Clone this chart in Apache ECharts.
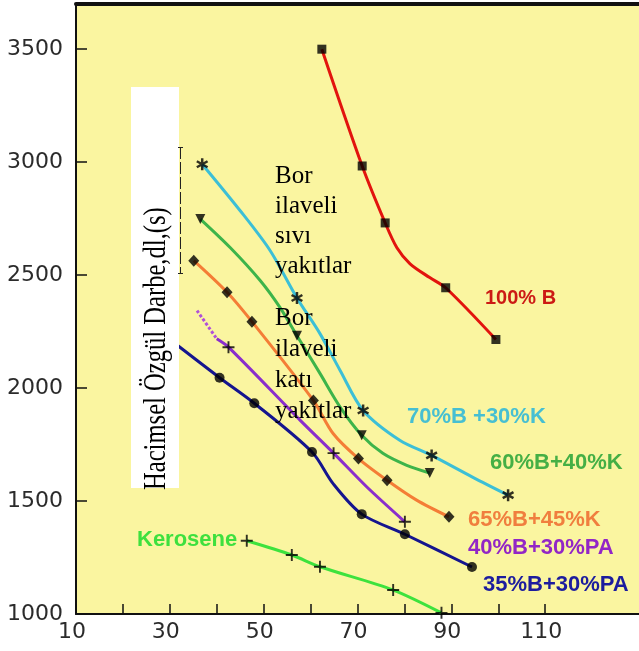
<!DOCTYPE html>
<html>
<head>
<meta charset="utf-8">
<title>Hacimsel Özgül Darbe</title>
<script src="https://cdn.jsdelivr.net/npm/echarts/dist/echarts.min.js"></script>
<style>
    html, body {margin: 0; padding: 0; background: #fff;}
    #main {width: 639px; height: 651px;}
</style>
</head>
<body>
<div id="main"></div>
<script>
// tick labels
let x_ticks = [10, 20, 30, 40, 50, 60, 70, 80, 90, 100, 110];
let x_labels = [10, 30, 50, 70, 90, 110];
let y_ticks = [1000, 1500, 2000, 2500, 3000, 3500];

// [x, y]; *_marks are the points with a marker
let b100_line = [[62.4, 3500], [71.0, 2983], [75.9, 2731], [78.4, 2621], [81.2, 2550], [85.4, 2489], [88.8, 2444], [99.5, 2215]];
let b100_marks = [[62.4, 3500], [71.0, 2983], [75.9, 2731], [88.8, 2444], [99.5, 2215]];

let b70k30_line = [[36.9, 2991], [45.0, 2785], [51.4, 2608], [57.1, 2399], [62.0, 2241], [66.3, 2078], [71.2, 1901], [79.0, 1769], [85.8, 1702], [94.6, 1605], [102.1, 1526]];
let b70k30_marks = [[36.9, 2991], [57.1, 2399], [71.2, 1901], [85.8, 1702], [102.1, 1526]];

let b60k40_line = [[36.5, 2748], [42.9, 2621], [49.3, 2475], [53.5, 2356], [57.1, 2232], [62.0, 2065], [66.3, 1916], [70.9, 1791], [75.4, 1711], [80.5, 1658], [85.4, 1624]];
let b60k40_marks = [[36.5, 2748], [57.1, 2232], [70.9, 1791], [85.4, 1624]];

let b65k45_line = [[35.1, 2564], [42.2, 2424], [47.5, 2294], [60.6, 1945], [64.8, 1799], [70.2, 1688], [76.3, 1592], [82.6, 1504], [89.5, 1430]];
let b65k45_marks = [[35.1, 2564], [42.2, 2424], [47.5, 2294], [60.6, 1945], [70.2, 1688], [76.3, 1592], [89.5, 1430]];

let b40pa30_dash = [[35.8, 2343], [40.0, 2218]];
let b40pa30_line = [[40.0, 2218], [42.5, 2181], [57.8, 1857], [64.9, 1712], [72.0, 1562], [80.1, 1408]];
let b40pa30_marks = [[42.5, 2181], [64.9, 1712], [80.1, 1408]];

let b35pa30_line = [[30.5, 2207], [40.6, 2046], [48.0, 1933], [60.3, 1717], [64.8, 1577], [70.9, 1442], [80.1, 1353], [94.4, 1208]];
let b35pa30_marks = [[40.6, 2046], [48.0, 1933], [60.3, 1717], [70.9, 1442], [80.1, 1353], [94.4, 1208]];

let kero_line = [[46.4, 1324], [56.0, 1261], [62.0, 1209], [77.6, 1106], [87.9, 1005]];
let kero_marks = [[46.4, 1324], [56.0, 1261], [62.0, 1209], [77.6, 1106], [87.9, 1005]];

let STAR = 'path://M-1,-5L1,-5L1,5L-1,5Z M3.83,-3.37L4.83,-1.63L-3.83,3.37L-4.83,1.63Z M-4.83,-1.63L-3.83,-3.37L4.83,1.63L3.83,3.37Z';
let PLUS = 'path://M-0.8,-5H0.8V-0.8H5V0.8H0.8V5H-0.8V0.8H-5V-0.8H-0.8Z';

function curve(data, color, dash) {
    return {
        type: 'line',
        data: data,
        smooth: 0.3,
        showSymbol: false,
        symbol: 'none',
        lineStyle: {color: color, width: 3, type: dash ? [3, 2] : 'solid'},
        z: 2
    };
}

function marks(data, symbol, size, rotate) {
    return {
        type: 'scatter',
        data: data,
        symbol: symbol,
        symbolSize: size,
        symbolRotate: rotate || 0,
        itemStyle: {color: '#000'},
        z: 3
    };
}

function label(text, x, y, color, size) {
    return {
        type: 'text', x: x, y: y, z: 100,
        style: {
            text: text, fill: color, verticalAlign: 'middle',
            font: 'bold ' + (size || 22) + 'px "Liberation Sans", Arial, sans-serif'
        }
    };
}

let myChart = echarts.init(document.getElementById('main'));
let option = {
    animation: false,
    grid: {left: 76, top: 4, right: 0, bottom: 37, show: true, backgroundColor: '#FAF5A0', borderWidth: 0},
    xAxis: [{
        type: 'value', min: 10, max: 130,
        axisLine: {lineStyle: {color: '#111', width: 2}},
        axisTick: {inside: true, length: 10, customValues: x_ticks, lineStyle: {color: '#111', width: 1.5}},
        axisLabel: {customValues: x_labels, margin: 7, padding: [0, 8, 0, 0], color: '#2b2b2b', fontSize: 22, fontFamily: 'DejaVu Sans',
            formatter: function (v) { return String(v); }},
        splitLine: {show: false}
    }, {
        type: 'value', min: 10, max: 130, position: 'top',
        axisLine: {lineStyle: {color: '#111', width: 4}},
        axisTick: {show: false}, axisLabel: {show: false}, splitLine: {show: false}
    }],
    yAxis: {
        type: 'value', min: 1000, max: 3700,
        axisLine: {show: true, lineStyle: {color: '#111', width: 2}},
        axisTick: {show: true, inside: true, length: 11, customValues: y_ticks, lineStyle: {color: '#111', width: 1.5}},
        axisLabel: {customValues: y_ticks, margin: 13, color: '#2b2b2b', fontSize: 22, fontFamily: 'DejaVu Sans',
            formatter: function (v) { return String(v); }},
        splitLine: {show: false}
    },
    series: [
        curve(b100_line, '#E2140E'), marks(b100_marks, 'rect', 9),
        curve(b70k30_line, '#3CBFD6'), marks(b70k30_marks, STAR, 12),
        curve(b60k40_line, '#3DB44A'), marks(b60k40_marks, 'triangle', 10, 180),
        curve(b65k45_line, '#F47D36'), marks(b65k45_marks, 'diamond', [11, 12]),
        curve(b40pa30_dash, '#B050D8', true),
        curve(b40pa30_line, '#8A2ECC'), marks(b40pa30_marks, PLUS, 12),
        curve(b35pa30_line, '#15158E'), marks(b35pa30_marks, 'circle', 10),
        curve(kero_line, '#3DE23D'), marks(kero_marks, PLUS, 12)
    ],
    graphic: [
        {type: 'rect', z: 90, shape: {x: 131, y: 87, width: 48, height: 401}, style: {fill: '#fff'}},
        {
            type: 'text', x: 157, y: 490, rotation: Math.PI / 2, scaleY: 1.27, z: 100,
            style: {text: 'Hacimsel Özgül Darbe,dl,(s)', fill: '#000', align: 'left', verticalAlign: 'middle', font: '24.6px "Liberation Serif", serif'}
        },
        {type: 'polyline', z: 100, shape: {points: [[180.5, 147], [180.5, 273]]}, style: {stroke: '#222', lineWidth: 1, lineDash: [12, 3]}},
        {type: 'polyline', z: 100, shape: {points: [[178, 147.5], [183, 147.5]]}, style: {stroke: '#222', lineWidth: 1}},
        {type: 'polyline', z: 100, shape: {points: [[178, 273.5], [183, 273.5]]}, style: {stroke: '#222', lineWidth: 1}},
        {
            type: 'text', x: 275, y: 161, z: 100,
            style: {text: 'Bor\nilaveli\nsıvı\nyakıtlar', fill: '#000', lineHeight: 30, verticalAlign: 'top', font: '25px "Liberation Serif", serif'}
        },
        {
            type: 'text', x: 275, y: 303, z: 100,
            style: {text: 'Bor\nilaveli\nkatı\nyakıtlar', fill: '#000', lineHeight: 31, verticalAlign: 'top', font: '25px "Liberation Serif", serif'}
        },
        label('100% B', 485, 298, '#CC1A14', 20),
        label('70%B +30%K', 407, 417, '#46BFD2'),
        label('60%B+40%K', 490, 463, '#45AF45'),
        label('65%B+45%K', 468, 520, '#F07E3E'),
        label('40%B+30%PA', 468, 548, '#9226C6'),
        label('35%B+30%PA', 483, 585, '#1C1C9E'),
        label('Kerosene', 137, 540, '#3EE03E')
    ]
};
if (option && typeof option === "object") {
    myChart.setOption(option, true);
}
</script>
</body>
</html>
